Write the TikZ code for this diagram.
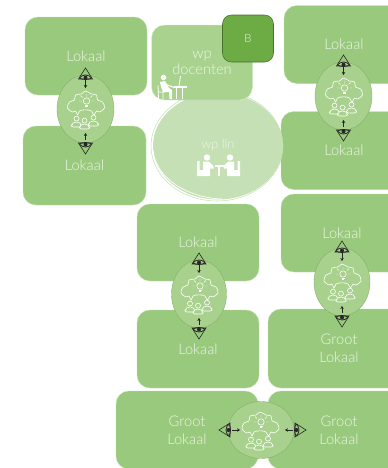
\documentclass[tikz,border=0pt]{standalone}
\usepackage{fontspec}
\setmainfont{Lato}[UprightFont=* Light]
\usetikzlibrary{shapes.geometric,arrows.meta}
\newlength\pxu
\setlength\pxu{0.75pt}
\definecolor{roomc}{HTML}{98C97C}
\definecolor{hubc}{HTML}{A9D18E}
\definecolor{docc}{HTML}{A9D28F}
\definecolor{llnc}{HTML}{C5E0B4}
\definecolor{bc}{HTML}{6DAC45}
\definecolor{txtc}{HTML}{EFF6E9}
\tikzset{
  x=0.75pt,y=-0.75pt,
  room/.style={rectangle,rounded corners=13\pxu,fill=roomc,draw=white!35!roomc,line width=0.3pt,
    minimum width=#1*\pxu,inner sep=0pt,text=txtc,align=center,font=\fontsize{11}{13}\selectfont},
  hub/.style={ellipse,fill=hubc,draw=roomc!85!black,line width=0.25pt,inner sep=0pt},
  ico/.style={draw=white,line width=0.45pt,line join=round},
  flow/.style={-{Stealth[length=2.2pt,width=2.6pt]},black!85,line width=0.4pt},
  eyesign/.pic={
    \draw[black!85,line width=0.45pt,line join=miter] (0,-11)--(7,0)--(-7,0)--cycle;
    \draw[black!85,line width=0.55pt] (-6,-1) .. controls (-3,-5) and (3,-5) .. (6,-1);
    \draw[black!85,line width=0.55pt] (-6,-1) .. controls (-3,1) and (3,1) .. (6,-1);
    \fill[black!85] (0,-1.5) circle (2);
  },
  ideasign/.pic={
    \draw[ico] plot[smooth cycle,tension=0.6] coordinates {(-13,3)(-18,-1)(-16,-7)(-11,-9)(-10,-14)(-4,-15)(0,-18)(6,-15)(11,-14)(12,-9)(17,-7)(19,-1)(14,3)(11,2)(8.5,6)(6,2)(3,1)(-3,1)(-6,2)(-8,6)(-10,2)};
    \draw[ico] (1,-8) circle (3.2);
    \draw[ico,line width=0.7pt] (-0.5,-4)--(2.5,-4) (-0.3,-2.5)--(2.3,-2.5);
    \draw[ico,line width=0.35pt] (1,-12.5)--(1,-15) (-3,-11.5)--(-5,-13.5) (5,-11.5)--(7,-13.5) (-4,-8)--(-6.5,-8) (6,-8)--(8.5,-8);
    \foreach \a/\b in {-9/13,8/12,-1/15}{
      \draw[ico,fill=hubc] (\a,\b-3.4) circle (2.5);
      \draw[ico,fill=hubc,rounded corners=1.5pt] (\a-5,\b+5)--(\a-5,\b+2)--(\a-2,\b)--(\a+2,\b)--(\a+5,\b+2)--(\a+5,\b+5)--cycle;
    }
  },
}
\newcommand{\vhub}[4]{%
  \begin{scope}[shift={(#2,#3)}]
    \node[hub,minimum width=#4*\pxu,minimum height=68*\pxu] (#1) at (0,0) {};
    \pic at (0,0) {ideasign};
    \coordinate (#1-ea) at (0,-29); \coordinate (#1-ta) at (0,-21);
    \coordinate (#1-eb) at (0,31); \coordinate (#1-tb) at (0,24);
    \draw[flow] (#1-ea) -- (#1-ta);
    \draw[flow] (#1-eb) -- (#1-tb);
    \pic at (0,-30) {eyesign};
    \pic[rotate=180] at (0,34) {eyesign};
  \end{scope}}
\begin{document}
\begin{tikzpicture}
\path[use as bounding box] (0,0) rectangle (388,468);
\clip (0,0) rectangle (388,468);
% rooms
\node[room=122,minimum height=78*\pxu] (r1) at (86,56) {Lokaal};
\node[room=123,minimum height=79*\pxu] (r2) at (84.5,165.5) {Lokaal};
\node[room=120,minimum height=78*\pxu] (r3) at (344,44.5) {Lokaal};
\node[room=126,minimum height=78*\pxu] (r4) at (344,150.5) {Lokaal};
\node[room=122,minimum height=77*\pxu] (r5) at (198,242.5) {Lokaal};
\node[room=122,minimum height=78*\pxu] (r6) at (198,349) {Lokaal};
\node[room=122,minimum height=78*\pxu] (r7) at (342,233) {Lokaal};
\node[room=142,minimum height=79*\pxu] (r8) at (339,348.5) {Groot\\[0.5pt]Lokaal};
\node[room=142,minimum height=78*\pxu] (r9) at (187,430) {Groot\\[0.5pt]Lokaal};
\node[room=142,minimum height=78*\pxu] (r10) at (339,430) {Groot\\[0.5pt]Lokaal};
% study areas
\node[ellipse,fill=llnc,inner sep=0pt,minimum width=130*\pxu,minimum height=107*\pxu] (lln) at (218,146) {};
\draw[llnc,line width=0.4pt] (217,146) ellipse [x radius=66,y radius=55];
\draw[white,line width=0.5pt] (153,150) .. controls (156,180) and (190,198) .. (222,199);
\node[text=txtc,font=\fontsize{9.5}{12}\selectfont] (llnt) at (218,145) {wp lln};
\node[rectangle,rounded corners=13\pxu,fill=docc,draw=white!60!docc,line width=0.3pt,minimum width=101*\pxu,minimum height=75*\pxu,inner sep=0pt,text=txtc,align=center,font=\fontsize{11}{12.2}\selectfont] (doc) at (202,62.5) {wp\\[0pt]docenten};
\node[rectangle,rounded corners=9\pxu,fill=bc,draw=bc!65!black,line width=0.4pt,minimum width=51*\pxu,minimum height=47*\pxu,inner sep=0pt,text=txtc,font=\fontsize{8.5}{10}\selectfont] (b) at (248,38.5) {B};
% teacher at a desk
\fill[white] (163.5,77.5) circle (2.8);
\fill[white] (160,82)--(165,81)--(169,88)--(172,90)--(172,99)--(169.5,99)--(169,92)--(163,92)--(161,87)--cycle;
\draw[white,line width=0.6pt] (158,85)--(158.5,99) (158.5,92)--(165,92) (163,92)--(163,99);
\draw[white,line width=0.8pt] (165,84)--(174,87.5);
\draw[white,line width=0.8pt] (174,87)--(187,87);
\draw[white,line width=0.6pt] (176,87)--(176,99) (182,87)--(182,99);
\draw[white,line width=0.6pt] (179,86)--(180.5,76);
% students at a table
\foreach \sx/\px in {1/207,-1/230}{
  \begin{scope}[shift={(\px,0)},xscale=\sx]
    \fill[white] (0,157.5) circle (3.2);
    \fill[white] (-4,161.5)--(2,161.5)--(6.5,166)--(6.5,168.5)--(3,168.5)--(3,176)--(-10,176)--(-10,161)--(-7.5,161)--(-7.5,170)--(-4,170)--cycle;
  \end{scope}
}
\draw[white,line width=1pt] (214.5,166)--(223.5,166);
\draw[white,line width=0.9pt] (219,166)--(219,176);
% collaboration hubs
\vhub{h1}{85.5}{109}{57}
\vhub{h2}{343.5}{96}{57}
\vhub{h3}{199}{294}{55}
\vhub{h4}{342}{282}{56}
\begin{scope}[shift={(261,430)}]
  \node[hub,minimum width=66*\pxu,minimum height=57*\pxu] (h5) at (0,0) {};
  \pic at (-1,0) {ideasign};
  \coordinate (h5-ea) at (-29,0); \coordinate (h5-ta) at (-21,0);
  \coordinate (h5-eb) at (32,0); \coordinate (h5-tb) at (24,0);
  \draw[flow] (h5-ea) -- (h5-ta);
  \draw[flow] (h5-eb) -- (h5-tb);
  \pic[rotate=90] at (-31,0) {eyesign};
  \pic[rotate=-90] at (34,0) {eyesign};
\end{scope}
\end{tikzpicture}
\end{document}
